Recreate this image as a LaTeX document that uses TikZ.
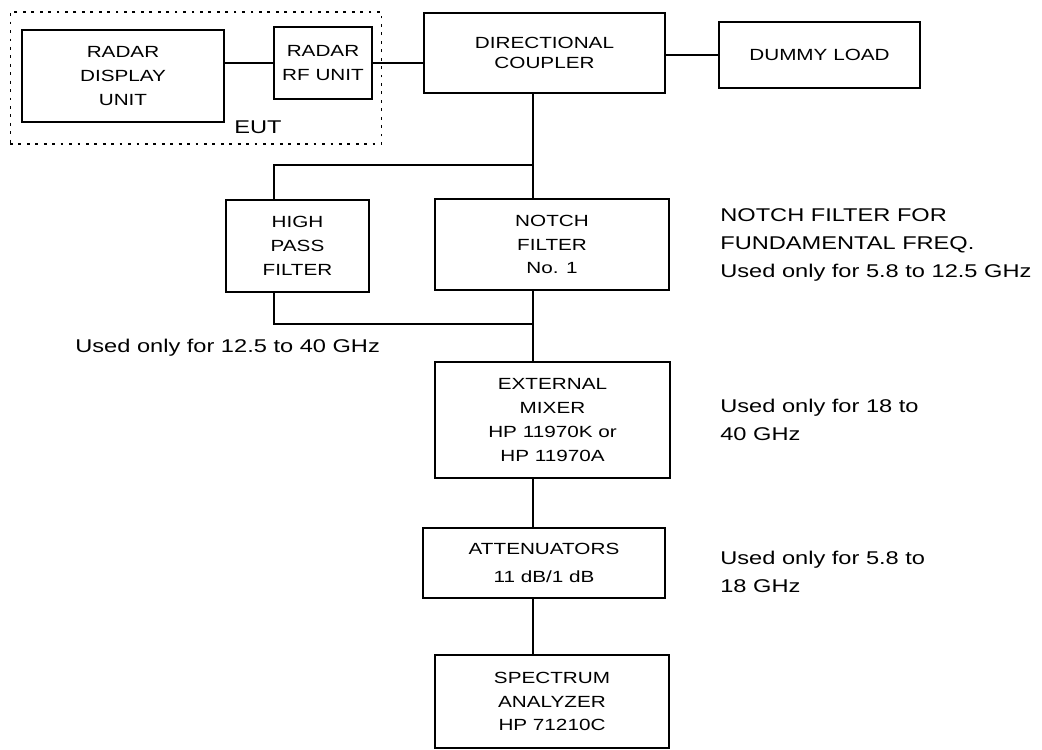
\documentclass[tikz,border=0pt]{standalone}
\usepackage{fontspec}
\setmainfont{Liberation Sans}[FakeStretch=1.28]
\usepackage{tikz}
\usetikzlibrary{positioning}

\begin{document}
\begin{tikzpicture}[x=0.02cm,y=-0.02cm,
    box/.style={draw,line width=1pt,align=center,inner sep=0pt,font=\fontsize{9.2}{13.6}\selectfont},
    note/.style={align=left,anchor=west,inner sep=0pt,font=\fontsize{10.5}{15.8}\selectfont},
    eutbox/.style={draw,line width=0.6pt,dash pattern=on 1.6pt off 3.2pt,inner sep=0pt},
    wire/.style={line width=1pt}]
    \useasboundingbox (0,0) rectangle (1042,750);
    % EUT
    \node[eutbox,minimum width=7.44cm,minimum height=2.64cm] (eut) at (196,78) {};
    \node[box,minimum width=4.04cm,minimum height=1.84cm] (disp) at (123,76) {RADAR\\DISPLAY\\UNIT};
    \node[box,minimum width=1.96cm,minimum height=1.44cm] (rfu) at (323,63) {RADAR\\RF UNIT};
    \node[inner sep=0pt,font=\fontsize{10.5}{12}\selectfont] (eutlbl) at (258,127) {EUT};
    % main chain
    \node[box,minimum width=4.82cm,minimum height=1.6cm,font=\fontsize{9.2}{11}\selectfont] (cpl) at (544.5,53) {DIRECTIONAL\\COUPLER};
    \node[box,minimum width=4.02cm,minimum height=1.32cm] (dummy) at (819.5,55) {DUMMY LOAD};
    \node[box,minimum width=2.86cm,minimum height=1.84cm] (hp) at (297.5,246) {HIGH\\PASS\\FILTER};
    \node[box,minimum width=4.68cm,minimum height=1.82cm] (notch) at (552,244.5) {NOTCH\\FILTER\\No. 1};
    \node[box,minimum width=4.7cm,minimum height=2.32cm] (mixer) at (552.5,420) {EXTERNAL\\MIXER\\HP 11970K or\\HP 11970A};
    \node[box,minimum width=4.84cm,minimum height=1.4cm,font=\fontsize{9.2}{15.5}\selectfont] (atten) at (544,563) {ATTENUATORS\\11 dB/1 dB};
    \node[box,minimum width=4.68cm,minimum height=1.86cm] (spec) at (552,701.5) {SPECTRUM\\ANALYZER\\HP 71210C};
    % notes
    \node[note] (nnotch) at (720,245) {NOTCH FILTER FOR\\FUNDAMENTAL FREQ.\\Used only for 5.8 to 12.5 GHz};
    \node[note] (nmixer) at (720,420) {Used only for 18 to\\40 GHz};
    \node[note] (natten) at (720,572) {Used only for 5.8 to\\18 GHz};
    \node[note] (nhp) at (75,348) {Used only for 12.5 to 40 GHz};
    % wiring
    \coordinate (trunk) at (533,0);
    \coordinate (hpx) at (274,0);
    \coordinate (tap) at (533,165);
    \coordinate (join) at (533,324);
    \draw[wire] (rfu.west) -- (rfu.west -| disp.east);
    \draw[wire] (rfu.east) -- (rfu.east -| cpl.west);
    \draw[wire] (dummy.west) -- (dummy.west -| cpl.east);
    \draw[wire] (cpl.south -| trunk) -- (notch.north -| trunk);
    \draw[wire] (tap) -| (hp.north -| hpx);
    \draw[wire] (hp.south -| hpx) |- (join);
    \draw[wire] (notch.south -| trunk) -- (mixer.north -| trunk);
    \draw[wire] (mixer.south -| trunk) -- (atten.north -| trunk);
    \draw[wire] (atten.south -| trunk) -- (spec.north -| trunk);
\end{tikzpicture}
\end{document}
